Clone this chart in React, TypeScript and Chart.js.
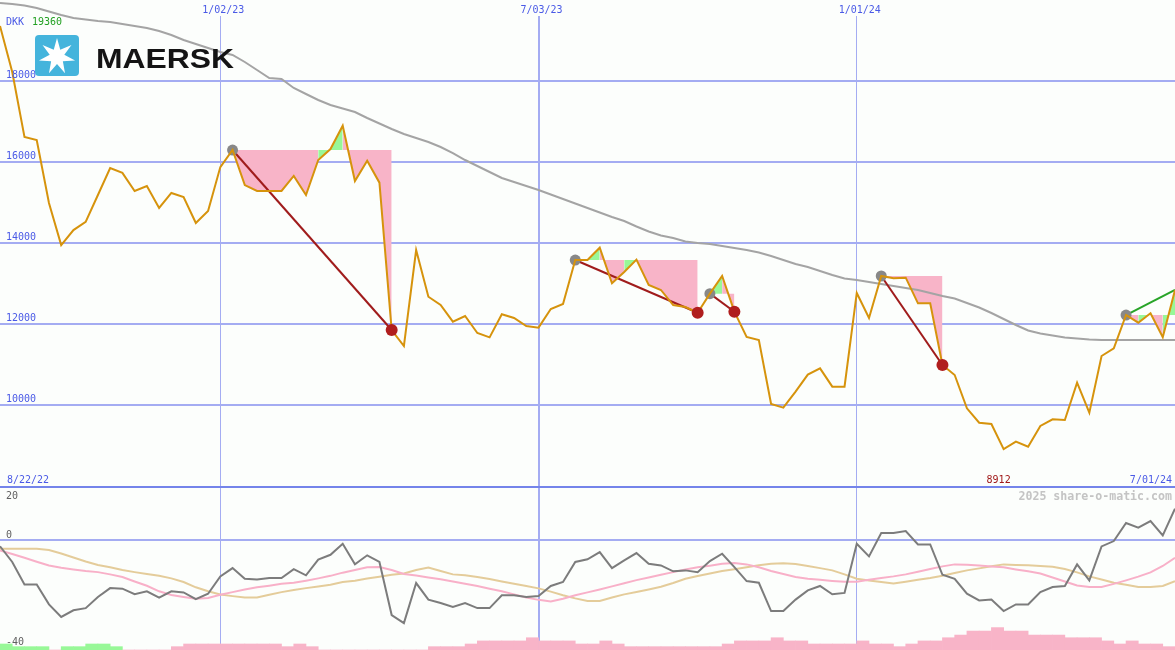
import React, { useEffect, useRef } from 'react';
import { Chart, registerables } from 'chart.js';

Chart.register(...registerables);

// ---- data (weekly closes, index 0 = first week shown) ----
const currency = 'DKK';
const brand = 'MAERSK';
const copyright = '2025 share-o-matic.com';
const firstDateLabel = '8/22/22';
const lastDateLabel = '7/01/24';
const dateTickIndex = [18, 44, 70];
const dateTickLabels = ['1/02/23', '7/03/23', '1/01/24'];
const priceTicks = [10000, 12000, 14000, 16000, 18000];
const oscTicks = [20, 0, -40];

const price = [
  19360, 18220, 16620, 16540, 14990, 13950, 14320, 14520, 15185, 15850,
  15730, 15285, 15405, 14865, 15235, 15135, 14495, 14790, 15875, 16296,
  15430, 15285, 15285, 15285, 15655, 15185, 16050, 16320, 16895, 15530,
  16030, 15490, 11852, 11457, 13827, 12674, 12470, 12057, 12198, 11778,
  11670, 12240, 12148, 11951, 11910, 12370, 12494, 13580, 13580, 13884,
  13005, 13284, 13590, 12963, 12840, 12469, 12420, 12279, 12750, 13185,
  12304, 11679, 11605, 10025, 9934, 10329, 10750, 10905, 10453, 10453,
  12766, 12148, 13185, 13128, 13144, 12511, 12511, 10988, 10741, 9919,
  9563, 9531, 8912, 9095, 8971, 9482, 9647, 9630, 10551, 9811,
  11210, 11400, 12222, 12033, 12264, 11672, 12840,
];

const movingAvg = [
  19926, 19901, 19864, 19802, 19716, 19630, 19556, 19518, 19481, 19457,
  19407, 19358, 19309, 19235, 19136, 19012, 18914, 18815, 18716, 18642,
  18469, 18272, 18074, 18049, 17827, 17679, 17531, 17407, 17321, 17235,
  17086, 16951, 16815, 16691, 16593, 16494, 16370, 16222, 16049, 15901,
  15753, 15605, 15506, 15407, 15309, 15198, 15087, 14975, 14864, 14753,
  14642, 14543, 14407, 14284, 14185, 14124, 14037, 14000, 13975, 13926,
  13877, 13827, 13766, 13679, 13580, 13482, 13407, 13309, 13210, 13124,
  13087, 13037, 12988, 12939, 12889, 12840, 12766, 12692, 12630, 12519,
  12408, 12272, 12124, 11975, 11840, 11765, 11716, 11667, 11642, 11617,
  11605, 11605, 11605, 11605, 11605, 11605, 11605,
];

const entries = [19, 47, 58, 72, 92];
const exits: (number | null)[] = [32, 57, 60, 77, null];

const osc = [
  -2.2, -8.1, -16.5, -16.5, -24, -28.7, -26.2, -25.4, -21.2, -17.9,
  -18.1, -20.2, -19.1, -21.5, -19.1, -19.5, -22, -20, -13.5, -10.4,
  -14.4, -14.7, -14.1, -14.1, -10.8, -13.1, -7.2, -5.4, -1.25, -9,
  -5.6, -8.1, -28, -31, -16, -22.2, -23.5, -25, -23.5, -25.4,
  -25.4, -20.6, -20.6, -21.2, -20.9, -17.1, -15.6, -8.1, -7.1, -4.4,
  -10.4, -7.5, -4.75, -8.75, -9.4, -11.6, -11.25, -11.9, -7.75, -5,
  -10, -15.25, -15.9, -26.5, -26.5, -22.2, -18.75, -17.1, -20.2, -19.7,
  -1.25, -6, 2.75, 2.75, 3.5, -1.5, -1.5, -12.9, -14.4, -20,
  -22.5, -22.2, -26.5, -24, -24, -19.4, -17.5, -17.1, -9, -15,
  -2.25, -0.25, 6.5, 4.75, 7.25, 1.9, 11.9,
];

const oscPink = [
  -3.75, -5.1, -6.5, -8, -9.4, -10.3, -10.9, -11.5, -11.9, -12.75,
  -13.75, -15.4, -17, -19.1, -20.5, -21.2, -21.9, -21.6, -20.4, -19.4,
  -18.4, -17.6, -17, -16.3, -15.9, -15.1, -14.25, -13.3, -12.1, -11.1,
  -10.1, -10, -11.1, -12.6, -13.2, -13.9, -14.6, -15.4, -16.25, -17.1,
  -18.1, -19.1, -20.25, -21.4, -22.3, -22.9, -21.9, -20.6, -19.5, -18.4,
  -17.25, -16.1, -14.9, -13.9, -12.9, -11.9, -10.9, -10.1, -9.5, -8.8,
  -8.5, -9, -10.1, -11.5, -12.6, -13.7, -14.4, -14.8, -15.2, -15.5,
  -15.5, -14.8, -14.1, -13.5, -12.75, -11.75, -10.75, -9.75, -9, -9.1,
  -9.4, -9.75, -10.1, -10.9, -11.6, -12.4, -13.9, -15.4, -16.9, -17.5,
  -17.5, -16.3, -15, -13.6, -12, -9.6, -6.5,
];

const oscTan = [
  -3.1, -3.1, -3.1, -3.1, -3.6, -4.9, -6.4, -7.9, -9.25, -10.1,
  -11.1, -11.9, -12.6, -13.3, -14.25, -15.6, -17.6, -19.1, -20.3, -20.9,
  -21.4, -21.4, -20.4, -19.4, -18.6, -17.9, -17.25, -16.6, -15.6, -15.1,
  -14.3, -13.6, -12.9, -12.4, -11.1, -10.2, -11.5, -12.75, -13.1, -13.75,
  -14.5, -15.4, -16.25, -17.1, -18, -19.2, -20.6, -21.75, -22.7, -22.7,
  -21.4, -20.25, -19.35, -18.4, -17.4, -16, -14.4, -13.35, -12.4, -11.5,
  -10.8, -10.05, -9.3, -8.8, -8.6, -8.9, -9.6, -10.4, -11.25, -12.75,
  -14.4, -15, -15.6, -16.2, -15.5, -14.8, -14.1, -13.25, -12.2, -11.25,
  -10.5, -9.7, -9, -9.2, -9.3, -9.6, -9.9, -10.7, -12, -13.5,
  -14.7, -15.9, -16.6, -17.5, -17.5, -17.1, -15.3,
];

// histogram (positive = green, negative = pink), one bar per week interval
const hist = [
  2.25, 1.25, 1.25, 1.25, 0, 1.25, 1.25, 2.25, 2.25, 1.25,
  0, 0, 0, 0, -1.25, -2.25, -2.25, -2.25, -2.25, -2.25,
  -2.25, -2.25, -2.25, -1.25, -2.25, -1.25, 0, 0, 0, 0,
  0, 0, 0, 0, 0, -1.25, -1.25, -1.25, -2.25, -3.4,
  -3.4, -3.4, -3.4, -4.6, -3.4, -3.4, -3.4, -2.25, -2.25, -3.4,
  -2.25, -1.25, -1.25, -1.25, -1.25, -1.25, -1.25, -1.25, -1.25, -2.25,
  -3.4, -3.4, -3.4, -4.6, -3.4, -3.4, -2.25, -2.25, -2.25, -2.25,
  -3.4, -2.25, -2.25, -1.25, -2.25, -3.4, -3.4, -4.6, -5.6, -7.1,
  -7.1, -8.4, -7.1, -7.1, -5.6, -5.6, -5.6, -4.6, -4.6, -4.6,
  -3.4, -2.25, -3.4, -2.25, -2.25, -1.25,
];

// ---- styling ----
const BG = '#fcfefc';
const GRID = '#a4acf2';
const GRID_DARK = '#7484ea';
const BLUE_TEXT = '#4a5ae6';
const GREEN_FILL = '#98f898';
const PINK_FILL = '#f8b4c8';
const FONT = '10px "DejaVu Sans Mono", monospace';

const PRICE_MIN = 3951;
const PRICE_MAX = 20000;
const OSC_MIN = -41.1;
const OSC_MAX = 202.6;

function drawStar(ctx: CanvasRenderingContext2D, cx: number, cy: number, R: number, r: number, n: number) {
  ctx.beginPath();
  for (let k = 0; k < 2 * n; k++) {
    const rad = k % 2 === 0 ? R : r;
    const a = -Math.PI / 2 + (k * Math.PI) / n;
    const px = cx + rad * Math.cos(a);
    const py = cy + rad * Math.sin(a);
    if (k === 0) ctx.moveTo(px, py);
    else ctx.lineTo(px, py);
  }
  ctx.closePath();
  ctx.fill();
}

const overlayPlugin = {
  id: 'overlay',
  beforeDraw(chart: any) {
    const ctx = chart.ctx;
    ctx.save();
    ctx.fillStyle = BG;
    ctx.fillRect(0, 0, chart.width, chart.height);
    ctx.restore();
  },
  beforeDatasetsDraw(chart: any) {
    // keep the date-label strip free of grid lines
    const ctx = chart.ctx;
    ctx.save();
    ctx.fillStyle = BG;
    ctx.fillRect(0, 0, chart.width, 16);
    ctx.restore();
  },
  afterDraw(chart: any) {
    const ctx: CanvasRenderingContext2D = chart.ctx;
    const xS = chart.scales.x;
    const yS = chart.scales.y;
    const y2S = chart.scales.y2;
    const area = chart.chartArea;
    ctx.save();
    ctx.font = FONT;
    ctx.textBaseline = 'alphabetic';

    // price tick labels
    ctx.fillStyle = BLUE_TEXT;
    ctx.textAlign = 'left';
    priceTicks.forEach((v) => ctx.fillText(String(v), 6, yS.getPixelForValue(v) - 3));

    // date labels on top
    ctx.textAlign = 'center';
    dateTickIndex.forEach((i, k) => ctx.fillText(dateTickLabels[k], xS.getPixelForValue(i) + 3, 13));

    // labels at bottom of price panel
    const bottomY = y2S.getPixelForValue(oscTicks[0]) - 4;
    ctx.textAlign = 'left';
    ctx.fillText(firstDateLabel, 7, bottomY);
    ctx.textAlign = 'right';
    ctx.fillText(lastDateLabel, area.right - 3, bottomY);

    const minV = Math.min(...price);
    const minI = price.indexOf(minV);
    ctx.fillStyle = '#a01818';
    ctx.fillText(String(minV), xS.getPixelForValue(minI) + 7, bottomY);

    // currency + max
    ctx.textAlign = 'left';
    ctx.fillStyle = BLUE_TEXT;
    ctx.fillText(currency, 6, 25);
    ctx.fillStyle = '#22a022';
    ctx.fillText(String(Math.max(...price)), 32, 25);

    // oscillator labels
    ctx.fillStyle = '#606060';
    oscTicks.forEach((v, k) => {
      const py = y2S.getPixelForValue(v);
      ctx.fillText(String(v), 6, k === 0 ? py + 12 : py - 2);
    });

    // copyright
    ctx.font = 'bold 11.6px "DejaVu Sans Mono", monospace';
    ctx.fillStyle = '#c4c4c4';
    ctx.textAlign = 'right';
    ctx.fillText(copyright, area.right - 3, y2S.getPixelForValue(oscTicks[0]) + 13);

    // logo
    ctx.fillStyle = '#44b4dc';
    ctx.beginPath();
    (ctx as any).roundRect(35, 35, 44, 41, 4);
    ctx.fill();
    ctx.fillStyle = '#ffffff';
    drawStar(ctx, 57, 56.5, 18.5, 7.5, 7);

    ctx.font = 'bold 28px "Liberation Sans", Arial, sans-serif';
    ctx.fillStyle = '#141414';
    ctx.textAlign = 'left';
    const w = ctx.measureText(brand).width;
    ctx.save();
    ctx.translate(96, 68);
    ctx.scale(138 / w, 1);
    ctx.fillText(brand, 0, 0);
    ctx.restore();

    ctx.restore();
  },
};

export default function App() {
  const ref = useRef<HTMLCanvasElement>(null);

  useEffect(() => {
    document.body.style.margin = '0';
    const canvas = ref.current;
    if (!canvas) return;

    const pts = (arr: number[]) => arr.map((v, i) => ({ x: i, y: v }));

    const fillSets = entries.map((e, k) => {
      const end = exits[k] ?? price.length - 1;
      const level = price[e];
      const data: { x: number; y: number }[] = [];
      for (let i = e; i <= end; i++) data.push({ x: i, y: price[i] });
      return {
        type: 'line',
        data,
        yAxisID: 'y',
        borderColor: 'rgba(0,0,0,0)',
        borderWidth: 0,
        pointRadius: 0,
        backgroundColor: PINK_FILL,
        fill: { value: level },
        segment: {
          backgroundColor: (c: any) => (c.p1.parsed.y >= level ? GREEN_FILL : PINK_FILL),
        },
        order: 9,
      };
    });

    const tradeLines = entries.map((e, k) => {
      const closed = exits[k] !== null;
      const end = exits[k] ?? price.length - 1;
      return {
        type: 'line',
        data: [
          { x: e, y: price[e] },
          { x: end, y: price[end] },
        ],
        yAxisID: 'y',
        borderColor: closed ? '#a01c1c' : '#28a428',
        borderWidth: 2,
        pointRadius: 0,
        fill: false,
        order: 5,
      };
    });

    const chart = new Chart(canvas, {
      type: 'line',
      data: {
        datasets: [
          {
            type: 'bar',
            data: hist.map((h, i) => ({ x: i + 0.5, y: Math.abs(h) })),
            yAxisID: 'yh',
            backgroundColor: hist.map((h) => (h > 0 ? GREEN_FILL : PINK_FILL)),
            borderWidth: 0,
            barPercentage: 1,
            categoryPercentage: 1,
            order: 20,
          } as any,
          {
            data: pts(oscTan),
            yAxisID: 'y2',
            borderColor: '#e4cc9a',
            borderWidth: 2,
            pointRadius: 0,
            fill: false,
            order: 12,
          },
          {
            data: pts(oscPink),
            yAxisID: 'y2',
            borderColor: '#f8b0c8',
            borderWidth: 2,
            pointRadius: 0,
            fill: false,
            order: 11,
          },
          {
            data: pts(osc),
            yAxisID: 'y2',
            borderColor: '#7c7c7c',
            borderWidth: 2,
            pointRadius: 0,
            fill: false,
            order: 10,
          },
          ...(fillSets as any[]),
          {
            data: pts(movingAvg),
            yAxisID: 'y',
            borderColor: '#a4a4a4',
            borderWidth: 2,
            pointRadius: 0,
            fill: false,
            order: 8,
          },
          ...(tradeLines as any[]),
          {
            data: entries.map((e) => ({ x: e, y: price[e] })),
            yAxisID: 'y',
            showLine: false,
            pointRadius: 5.5,
            pointBackgroundColor: '#888888',
            pointBorderWidth: 0,
            order: 4,
          },
          {
            data: pts(price),
            yAxisID: 'y',
            borderColor: '#d6930c',
            borderWidth: 2,
            pointRadius: 0,
            fill: false,
            order: 3,
          },
          {
            data: exits.filter((e): e is number => e !== null).map((e) => ({ x: e, y: price[e] })),
            yAxisID: 'y',
            showLine: false,
            pointRadius: 6,
            pointBackgroundColor: '#b01e1e',
            pointBorderWidth: 0,
            order: 2,
          },
        ] as any,
      },
      options: {
        animation: false,
        responsive: false,
        devicePixelRatio: 1,
        events: [],
        layout: { padding: 0, autoPadding: false },
        elements: { line: { tension: 0 }, point: { radius: 0 } },
        plugins: { legend: { display: false }, tooltip: { enabled: false } },
        scales: {
          x: {
            type: 'linear',
            position: 'top',
            min: 0,
            max: price.length - 1,
            offset: false,
            afterBuildTicks: (s: any) => {
              s.ticks = dateTickIndex.map((v) => ({ value: v }));
            },
            ticks: { display: false },
            grid: {
              offset: false,
              color: GRID,
              lineWidth: (c: any) => (c.tick && c.tick.value === dateTickIndex[1] ? 2 : 1),
              drawTicks: false,
            },
            border: { display: false },
          },
          y: {
            type: 'linear',
            position: 'left',
            min: PRICE_MIN,
            max: PRICE_MAX,
            afterBuildTicks: (s: any) => {
              s.ticks = priceTicks.map((v) => ({ value: v }));
            },
            ticks: { display: false },
            grid: { color: GRID, lineWidth: 2, drawTicks: false },
            border: { display: false },
          },
          y2: {
            type: 'linear',
            position: 'left',
            min: OSC_MIN,
            max: OSC_MAX,
            afterBuildTicks: (s: any) => {
              s.ticks = [oscTicks[0], oscTicks[1]].map((v) => ({ value: v }));
            },
            ticks: { display: false },
            grid: {
              color: (c: any) => (c.tick && c.tick.value === oscTicks[0] ? GRID_DARK : GRID),
              lineWidth: 2,
              drawTicks: false,
            },
            border: { display: false },
          },
          yh: {
            type: 'linear',
            display: false,
            min: 0,
            max: OSC_MAX - OSC_MIN,
          },
        },
      } as any,
      plugins: [overlayPlugin],
    });

    return () => chart.destroy();
  }, []);

  return (
    <div style={{ width: 1175, height: 650 }}>
      <canvas ref={ref} width={1175} height={650} style={{ display: 'block' }} />
    </div>
  );
}
